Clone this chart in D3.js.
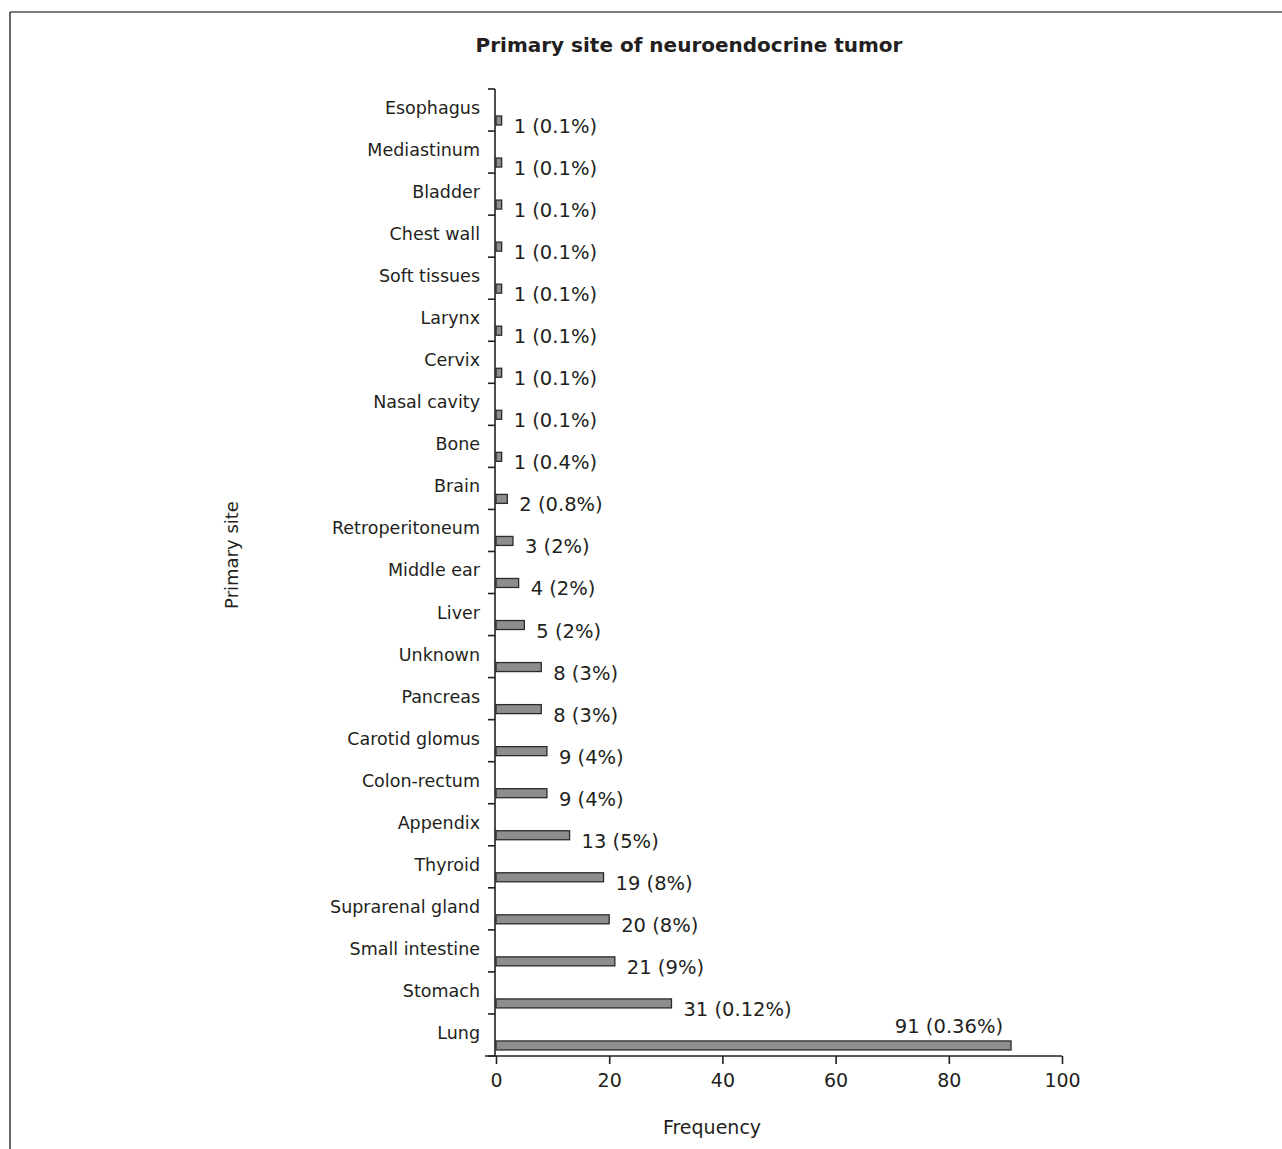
<!DOCTYPE html>
<html>
<head>
<meta charset="utf-8">
<title>Primary site of neuroendocrine tumor</title>
<script src="https://d3js.org/d3.v7.min.js"></script>
<style>
  body { margin: 0; background: #fff; }
  text { font-family: 'DejaVu Sans', sans-serif; fill: #231f20; }
  .domain, .tick line { stroke: #231f20; stroke-width: 1.6; }
</style>
</head>
<body>
<div id="chart"></div>
<script>
// data, top to bottom as in the figure
const sites = ['Esophagus', 'Mediastinum', 'Bladder', 'Chest wall', 'Soft tissues', 'Larynx',
  'Cervix', 'Nasal cavity', 'Bone', 'Brain', 'Retroperitoneum', 'Middle ear', 'Liver',
  'Unknown', 'Pancreas', 'Carotid glomus', 'Colon-rectum', 'Appendix', 'Thyroid',
  'Suprarenal gland', 'Small intestine', 'Stomach', 'Lung'];
const counts = [1, 1, 1, 1, 1, 1, 1, 1, 1, 2, 3, 4, 5, 8, 8, 9, 9, 13, 19, 20, 21, 31, 91];
const percents = ['0.1%', '0.1%', '0.1%', '0.1%', '0.1%', '0.1%', '0.1%', '0.1%', '0.4%',
  '0.8%', '2%', '2%', '2%', '3%', '3%', '4%', '4%', '5%', '8%', '8%', '9%', '0.12%', '0.36%'];
const xTicks = [0, 20, 40, 60, 80, 100];

const width = 1282, height = 1149;
const margin = {top: 89, bottom: 93, left: 495, right: 220};

const svg = d3.select('#chart').append('svg')
  .attr('width', width)
  .attr('height', height);

// frame: top and left rules only
svg.append('line').attr('x1', 10).attr('x2', width).attr('y1', 12).attr('y2', 12)
  .attr('stroke', '#555').attr('stroke-width', 1.5);
svg.append('line').attr('x1', 10).attr('x2', 10).attr('y1', 12).attr('y2', height)
  .attr('stroke', '#333').attr('stroke-width', 1.5);

const x = d3.scaleLinear().domain([0, 100]).range([margin.left + 1, margin.left + 567]);
const y = d3.scaleBand().domain(sites).range([margin.top, height - margin.bottom]).padding(0);
const bw = y.bandwidth();

// y axis: ticks on band boundaries
const yAxis = svg.append('g').attr('transform', `translate(${margin.left},0)`);
yAxis.append('line').attr('class', 'domain')
  .attr('y1', margin.top).attr('y2', height - margin.bottom);
yAxis.selectAll('line.tk').data(sites.concat(['end']))
  .join('line').attr('class', 'tk')
  .attr('stroke', '#231f20').attr('stroke-width', 1.6)
  .attr('x1', -7).attr('x2', 0)
  .attr('y1', (d, i) => margin.top + i * bw)
  .attr('y2', (d, i) => margin.top + i * bw);

// x axis
svg.append('g')
  .attr('transform', `translate(0,${height - margin.bottom})`)
  .call(d3.axisBottom(x).tickValues(xTicks).tickSize(8).tickSizeOuter(0).tickPadding(10))
  .call(g => g.select('.domain').attr('d', `M${margin.left - 10},0H${x(100)}`))
  .call(g => g.selectAll('text').style('font-size', '19px').style('font-family', "'DejaVu Sans', sans-serif"));

// category labels
svg.selectAll('text.cat').data(sites).join('text')
  .attr('class', 'cat')
  .attr('x', margin.left - 15)
  .attr('y', d => y(d) + 25)
  .attr('text-anchor', 'end')
  .style('font-size', '17.5px')
  .text(d => d);

// bars
svg.selectAll('rect.bar').data(sites).join('rect')
  .attr('class', 'bar')
  .attr('x', x(0))
  .attr('y', d => y(d) + 27)
  .attr('width', (d, i) => x(counts[i]) - x(0))
  .attr('height', 9)
  .attr('fill', '#8d8d90')
  .attr('stroke', '#2b2b2b')
  .attr('stroke-width', 1.3);

// value labels
svg.selectAll('text.val').data(sites).join('text')
  .attr('class', 'val')
  .attr('x', (d, i) => d === 'Lung' ? x(counts[i]) - 8 : x(counts[i]) + 12)
  .attr('y', d => d === 'Lung' ? y(d) + 19 : y(d) + 44)
  .attr('text-anchor', d => d === 'Lung' ? 'end' : 'start')
  .style('font-size', '19.5px')
  .text((d, i) => `${counts[i]} (${percents[i]})`);

// titles
svg.append('text')
  .attr('x', 689).attr('y', 52)
  .attr('text-anchor', 'middle')
  .style('font-size', '20px').style('font-weight', 'bold')
  .text('Primary site of neuroendocrine tumor');

svg.append('text')
  .attr('transform', 'translate(238,555) rotate(-90)')
  .attr('text-anchor', 'middle')
  .style('font-size', '18px')
  .text('Primary site');

svg.append('text')
  .attr('x', 712).attr('y', 1134)
  .attr('text-anchor', 'middle')
  .style('font-size', '19px')
  .text('Frequency');
</script>
</body>
</html>
